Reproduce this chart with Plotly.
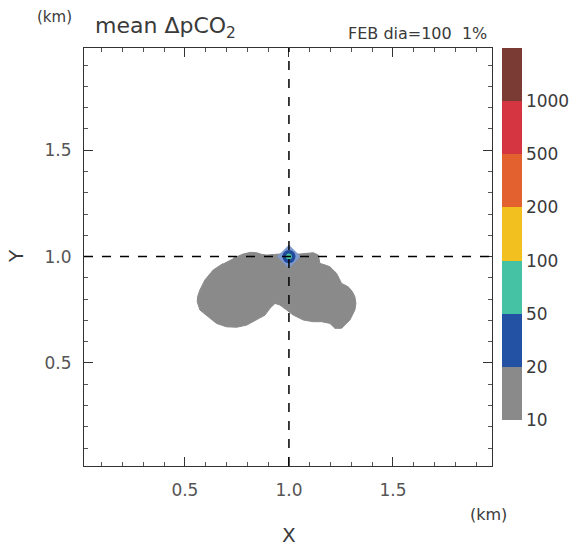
import plotly.graph_objects as go

# ---- data ----
blob_x = [0.732, 0.760, 0.780, 0.815, 0.845, 0.870, 0.893, 0.930, 0.957, 1.053, 1.090, 1.117,
          1.141, 1.149, 1.175, 1.197, 1.229, 1.253, 1.285, 1.305, 1.317, 1.322, 1.317, 1.293,
          1.270, 1.253, 1.221, 1.197, 1.157, 1.117, 1.069, 1.021, 0.989, 0.957, 0.933, 0.909,
          0.885, 0.845, 0.797, 0.749, 0.700, 0.652, 0.612, 0.585, 0.572, 0.559, 0.562, 0.572,
          0.596, 0.636, 0.684]
blob_y = [0.992, 1.005, 1.012, 1.020, 1.018, 1.010, 1.007, 1.010, 1.012, 1.012, 1.015, 1.018,
          1.007, 0.968, 0.960, 0.952, 0.921, 0.874, 0.858, 0.835, 0.811, 0.780, 0.749, 0.702,
          0.680, 0.663, 0.663, 0.686, 0.694, 0.694, 0.702, 0.725, 0.749, 0.772, 0.780, 0.757,
          0.725, 0.702, 0.678, 0.668, 0.670, 0.686, 0.717, 0.735, 0.749, 0.788, 0.815, 0.843,
          0.890, 0.937, 0.968]
source_x = [1.0]
source_y = [1.0]
levels = ["10", "20", "50", "100", "200", "500", "1000"]
band_colors = ["#8a8a8a", "#2352a5", "#45c2a3", "#f2c11f", "#e3602f", "#d43540", "#7a3b35"]
x_ticks = [0.5, 1.0, 1.5]
y_ticks = [0.5, 1.0, 1.5]

txt = "#3a3a3a"
font_family = "DejaVu Sans"

# discrete colorscale
n = len(band_colors)
cs = []
for i, c in enumerate(band_colors):
    cs.append([i / n, c])
    cs.append([(i + 1) / n, c])

W, H = 581, 551
L, R, T, B = 84, 581 - 492, 48, 551 - 466


def px(xp):
    return (xp - L) / (W - L - R)


def py(yp):
    return (H - B - yp) / (H - T - B)


fig = go.Figure()

fig.add_trace(go.Scatter(x=blob_x, y=blob_y, fill="toself", mode="lines",
                         fillcolor=band_colors[0], line=dict(color=band_colors[0], width=1),
                         hoverinfo="skip", showlegend=False))

# source markers (halo, ring, core)
fig.add_trace(go.Scatter(x=source_x, y=source_y, mode="markers",
                         marker=dict(size=18, symbol="diamond", color="#7d9ad0", line=dict(width=0)),
                         showlegend=False, hoverinfo="skip"))
fig.add_trace(go.Scatter(x=source_x, y=source_y, mode="markers",
                         marker=dict(size=13, color="#1f4a9c", line=dict(width=0)),
                         showlegend=False, hoverinfo="skip"))
fig.add_trace(go.Scatter(x=source_x, y=source_y, mode="markers",
                         marker=dict(size=6, color=band_colors[2], line=dict(width=0)),
                         showlegend=False, hoverinfo="skip"))

# colorbar carrier
fig.add_trace(go.Scatter(x=[None], y=[None], mode="markers", showlegend=False,
                         marker=dict(color=[0], cmin=0, cmax=n, colorscale=cs, showscale=True,
                                     colorbar=dict(
                                         x=px(502), xanchor="left",
                                         y=py(420), yanchor="bottom",
                                         len=372 / 418, lenmode="fraction",
                                         thickness=20, thicknessmode="pixels",
                                         outlinewidth=0, xpad=0, ypad=0,
                                         tickvals=list(range(len(levels))),
                                         ticktext=levels, ticks="",
                                         tickfont=dict(size=17, color=txt, family=font_family),
                                     ))))

fig.add_vline(x=source_x[0], line=dict(color="black", width=1.5, dash="dash"))
fig.add_hline(y=source_y[0], line=dict(color="black", width=1.5, dash="dash"))

axis_common = dict(
    showgrid=False, zeroline=False, showline=True, linecolor="#333", linewidth=1,
    mirror="allticks", ticks="inside", ticklen=9, tickcolor="#333",
    tickfont=dict(size=17, color="#555", family=font_family),
    minor=dict(dtick=0.1, ticks="inside", ticklen=4, tickcolor="#555"),
)
fig.update_xaxes(range=[0.015, 1.976], tickvals=x_ticks, ticktext=["0.5", "1.0", "1.5"],
                 ticklabelstandoff=9, **axis_common)
fig.update_yaxes(range=[0.016, 1.98], tickvals=y_ticks, ticktext=["0.5", "1.0", "1.5"],
                 ticklabelstandoff=8, **axis_common)

annos = [
    dict(text="(km)", x=px(54), y=py(17), size=15),
    dict(text="mean ΔpCO<sub>2</sub>", x=px(165), y=py(28), size=22),
    dict(text="FEB dia=100  1%", x=px(417), y=py(33), size=16),
    dict(text="(km)", x=px(488), y=py(514), size=16),
    dict(text="X", x=px(289), y=py(535), size=20),
]
for a in annos:
    fig.add_annotation(text=a["text"], x=a["x"], y=a["y"], xref="paper", yref="paper",
                       showarrow=False, xanchor="center", yanchor="middle",
                       font=dict(size=a["size"], color=txt, family=font_family))
fig.add_annotation(text="Y", x=px(16), y=py(256), xref="paper", yref="paper",
                   showarrow=False, textangle=-90, xanchor="center", yanchor="middle",
                   font=dict(size=20, color=txt, family=font_family))

fig.update_layout(width=W, height=H,
                  margin=dict(l=L, r=R, t=T, b=B, autoexpand=False),
                  paper_bgcolor="white", plot_bgcolor="white", showlegend=False)

fig.write_html("out.html")
